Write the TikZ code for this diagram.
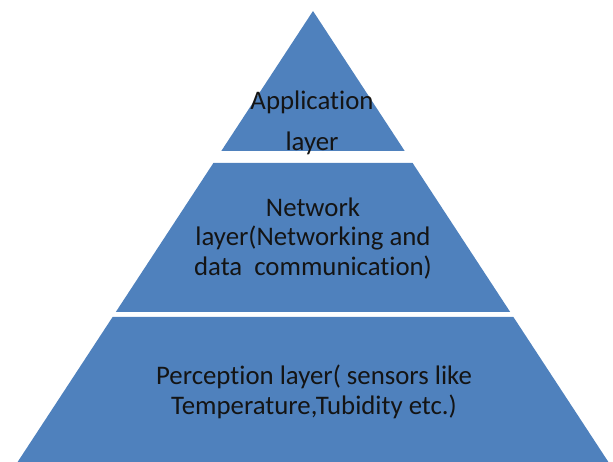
\documentclass[tikz,border=0pt]{standalone}
\usepackage{fontspec}
\setmainfont{Carlito}[Ligatures=NoCommon,RawFeature={-liga;-clig;-dlig}]
\definecolor{layerblue}{HTML}{4F81BD}
\definecolor{labeltext}{HTML}{141414}
\begin{document}
\begin{tikzpicture}[x=1pt,y=-1pt,
  layer/.style={fill=layerblue},
  lbl/.style={align=center,text=labeltext,inner sep=0pt,
    font=\fontsize{26.8}{29.5}\selectfont}]
\useasboundingbox (0,0) rectangle (613,462);
% top triangle
\fill[layer] (313,11) -- (404.7,151) -- (221.3,151) -- cycle;
% middle trapezoid
\fill[layer] (213.4,163) -- (412.6,163) -- (510.2,312) -- (115.8,312) -- cycle;
% bottom trapezoid
\fill[layer] (112.6,317) -- (513.4,317) -- (608.4,462) -- (17.6,462) -- cycle;
\node[lbl,font=\fontsize{26.8}{41}\selectfont] (app) at (312,123) {Application\\layer};
\node[lbl] (net) at (313,238.5) {Network\\layer(Networking and\\data\ \ communication)};
\node[lbl] (per) at (314,392) {Perception layer( sensors like\\Temperature,Tubidity etc.)};
\end{tikzpicture}
\end{document}
